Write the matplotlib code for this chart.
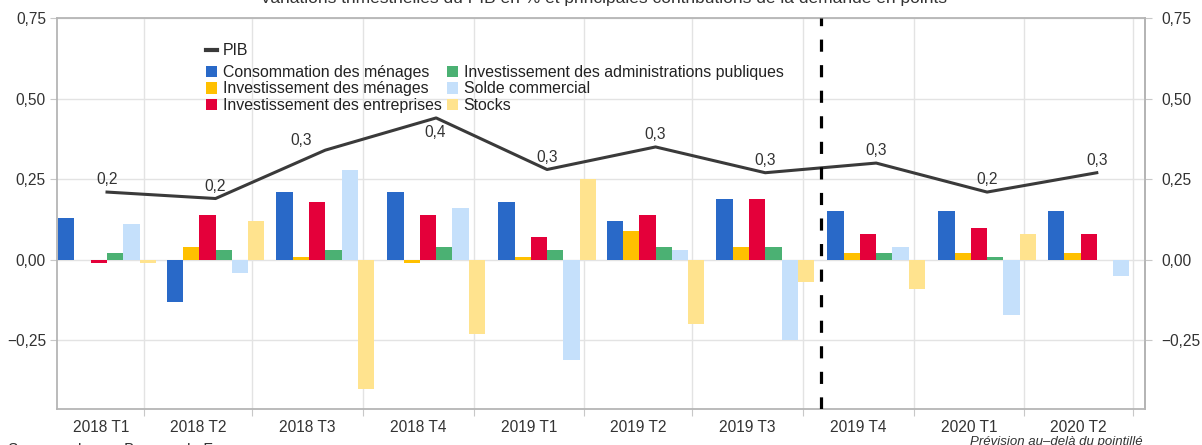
import numpy as np
import matplotlib
matplotlib.use("Agg")
import matplotlib.pyplot as plt
from matplotlib.patches import Patch
from matplotlib.lines import Line2D
from matplotlib.ticker import FuncFormatter

# ---------------- data ----------------
quarters = ["2018 T1", "2018 T2", "2018 T3", "2018 T4", "2019 T1",
            "2019 T2", "2019 T3", "2019 T4", "2020 T1", "2020 T2"]
pib = [0.21, 0.19, 0.34, 0.44, 0.28, 0.35, 0.27, 0.30, 0.21, 0.27]
conso_menages = [0.13, -0.13, 0.21, 0.21, 0.18, 0.12, 0.19, 0.15, 0.15, 0.15]
invest_menages = [0.00, 0.04, 0.01, -0.01, 0.01, 0.09, 0.04, 0.02, 0.02, 0.02]
invest_entreprises = [-0.01, 0.14, 0.18, 0.14, 0.07, 0.14, 0.19, 0.08, 0.10, 0.08]
invest_apu = [0.02, 0.03, 0.03, 0.04, 0.03, 0.04, 0.04, 0.02, 0.01, 0.00]
solde_commercial = [0.11, -0.04, 0.28, 0.16, -0.31, 0.03, -0.25, 0.04, -0.17, -0.05]
stocks = [-0.01, 0.12, -0.40, -0.23, 0.25, -0.20, -0.07, -0.09, 0.08, 0.00]

series_names = ["Consommation des ménages", "Investissement des ménages",
                "Investissement des entreprises",
                "Investissement des administrations publiques",
                "Solde commercial", "Stocks"]
last_observed = "2019 T3"

title = ("Variations trimestrielles du PIB en % et principales "
         "contributions de la demande en points")
source = "Sources : Insee, Banque de France"
note = "Prévision au\u2013delà du pointillé"

# ---------------- styles ----------------
colors = ["#2969C8", "#FFC000", "#E4003A", "#4BB173", "#C5E0FB", "#FFE38E"]
line_color = "#3a3a3a"
text_color = "#333333"
grid_color = "#e3e3e3"
frame_color = "#b5b5b5"
fs = 11.2
fs_leg = 11.4

plt.rcParams["font.family"] = ["Liberation Sans", "DejaVu Sans"]

origin = np.datetime64("2018-01-01")


def quarter_start(label, month_shift=0):
    year, q = label.split(" T")
    m = (int(q) - 1) * 3 + 1 + month_shift
    return np.datetime64(f"{year}-{m:02d}-01")


def days(d):
    return float((d - origin).astype(int))


x = np.array([days(quarter_start(q)) for q in quarters])
tick_x = np.array([days(quarter_start(q, 1)) for q in quarters])
xmin, xmax = -41.5, 861.0

fig = plt.figure(figsize=(12.02, 4.45), dpi=100)
ax = fig.add_axes([57 / 1202, 1 - 408.7 / 445, 1088 / 1202, (408.7 - 18) / 445])

series = [conso_menages, invest_menages, invest_entreprises,
          invest_apu, solde_commercial, stocks]
bar_w = 13.5
handles = []
for k, (vals, col, name) in enumerate(zip(series, colors, series_names)):
    ax.bar(x + (k - 2.5) * bar_w, vals, width=bar_w, color=col,
           linewidth=0, zorder=3)
    handles.append(Patch(facecolor=col, edgecolor="none", label=name))

ax.plot(x, pib, color=line_color, lw=2.2, zorder=5)

# data labels on the PIB line
label_offsets = {2: (-17, 7), 3: (-1, -10.5)}
for i, v in enumerate(pib):
    dx, dy = label_offsets.get(i, (0, 9))
    ax.annotate(f"{v:.1f}".replace(".", ","), (x[i], v), xytext=(dx, dy),
                textcoords="offset points", ha="center", va="center",
                fontsize=fs, color=text_color, zorder=6)

# forecast separator
i_last = quarters.index(last_observed)
ax.axvline((x[i_last] + x[i_last + 1]) / 2, color="black", lw=2.3,
           dashes=(3.8, 4.2), zorder=7)

# axes limits / ticks
ax.set_xlim(xmin, xmax)
ax.set_ylim(-0.462, 0.75)
yt = [-0.25, 0.0, 0.25, 0.5, 0.75]
fmt = FuncFormatter(lambda v, p: f"{v:.2f}".replace(".", ",").replace("-", "\u2212"))
ax.set_yticks(yt)
ax.yaxis.set_major_formatter(fmt)
ax.tick_params(axis="y", which="major", length=5, color="#c8c8c8",
               labelsize=fs, labelcolor=text_color, pad=3)

ax.set_xticks(tick_x)
ax.set_xticklabels([])
bounds = np.concatenate([[xmin], tick_x])
label_x = (bounds[:-1] + bounds[1:]) / 2
ax.set_xticks(label_x, minor=True)
ax.set_xticklabels(quarters, minor=True)
ax.tick_params(axis="x", which="major", length=5, color="#c8c8c8")
ax.tick_params(axis="x", which="minor", length=0, pad=8,
               labelsize=fs, labelcolor=text_color)

sec = ax.secondary_yaxis("right")
sec.set_yticks(yt)
sec.yaxis.set_major_formatter(fmt)
sec.tick_params(axis="y", length=5, color="#c8c8c8", labelsize=fs,
                labelcolor=text_color, pad=7)
sec.spines["right"].set_color(frame_color)
sec.spines["right"].set_linewidth(1.3)

ax.grid(True, which="major", color=grid_color, lw=1.0, zorder=0)
ax.set_axisbelow(True)
for s in ax.spines.values():
    s.set_color(frame_color)
    s.set_linewidth(1.3)

# legends
leg1 = ax.legend(handles=[Line2D([0], [0], color=line_color, lw=3)],
                 labels=["PIB"], loc="upper left",
                 bbox_to_anchor=(0.137, 0.935), frameon=False, fontsize=fs_leg,
                 handlelength=0.72, handletextpad=0.35, borderpad=0,
                 borderaxespad=0)
for t in leg1.get_texts():
    t.set_color("#222222")
ax.add_artist(leg1)
leg2 = ax.legend(handles=handles, loc="upper left",
                 bbox_to_anchor=(0.137, 0.88), ncol=2, frameon=False,
                 fontsize=fs_leg, handlelength=0.72, handleheight=0.72,
                 handletextpad=0.35, columnspacing=0.3, labelspacing=0.1,
                 borderpad=0, borderaxespad=0)
for t in leg2.get_texts():
    t.set_color("#222222")

# texts around the figure
fig.text(603 / 1202, 1 - 2.5 / 445, title, ha="center", va="baseline",
         fontsize=12.5, color=text_color)
fig.text(8 / 1202, 2.5 / 445, source, ha="left", va="top",
         fontsize=fs, color=text_color)
fig.text(1143 / 1202, 0.5 / 445, note, ha="right", va="baseline",
         fontsize=9.5, style="italic", color=text_color)

fig.savefig("out.png", dpi=100)
